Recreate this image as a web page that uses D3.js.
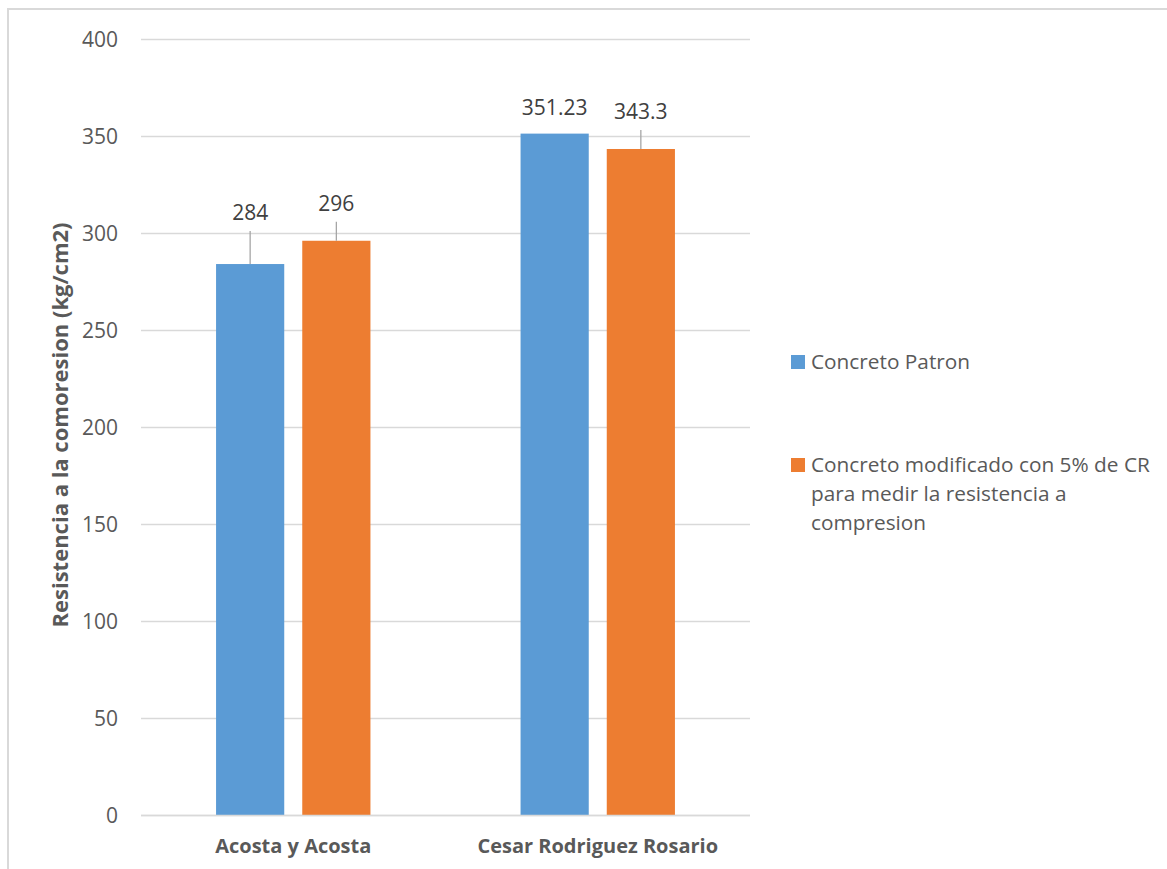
<!DOCTYPE html>
<html><head><meta charset="utf-8">
<script src="https://cdn.jsdelivr.net/npm/d3@7/dist/d3.min.js"></script>
<style>body{margin:0;background:#fff;} svg{display:block;}</style>
</head><body>
<svg id="chart" width="1167" height="869"></svg>
<script>
// ---- data ----
const categories = ["Acosta y Acosta", "Cesar Rodriguez Rosario"];
const seriesNames = ["Concreto Patron", "Concreto modificado con 5% de CR para medir la resistencia a compresion"];
const patronValues = [284, 351.23];
const modificadoValues = [296, 343.3];
const valueLabels = [["284", "351.23"], ["296", "343.3"]];
const yTicks = [0, 50, 100, 150, 200, 250, 300, 350, 400];
const yTitle = "Resistencia a la comoresion (kg/cm2)";
const legendLines = [["Concreto Patron"], ["Concreto modificado con 5% de CR", "para medir la resistencia a", "compresion"]];

// ---- layout / style ----
const colors = ["#5B9BD5", "#ED7D31"];
const font = "'Open Sans', Lato, sans-serif";
const textCol = "#595959";
const gridCol = "#d9d9d9";
// data label lift above bar top (px), per series per category (Excel callout placement)
const labelLift = [[51, 26], [37, 37]];

const svg = d3.select("#chart");
const plot = {left: 141, right: 750, top: 39, bottom: 815};

// outer chart border
svg.append("rect").attr("x", 8).attr("y", 9).attr("width", 1300).attr("height", 1000)
  .attr("fill", "none").attr("stroke", gridCol).attr("stroke-width", 2);

const y = d3.scaleLinear().domain([0, 400]).range([plot.bottom, plot.top]);
const x0 = d3.scaleBand().domain(categories).range([plot.left, plot.right]).padding(0);
const groupW = x0.bandwidth() * 0.507;
const x1 = d3.scaleBand().domain(d3.range(2)).range([0, groupW]).paddingInner(0.209).paddingOuter(0);

// gridlines
svg.append("g").selectAll("line").data(yTicks).join("line")
  .attr("x1", plot.left).attr("x2", plot.right)
  .attr("y1", d => Math.round(y(d)) + 0.5).attr("y2", d => Math.round(y(d)) + 0.5)
  .attr("stroke", gridCol).attr("stroke-width", 1.3);

// y axis tick labels
const yAxis = d3.axisLeft(y).tickValues(yTicks).tickSize(0).tickPadding(0);
const yg = svg.append("g").attr("transform", `translate(${plot.left - 23},0)`).call(yAxis);
yg.select(".domain").remove();
yg.selectAll("text").attr("font-family", font).attr("font-size", 21).attr("fill", textCol).attr("dy", "0.34em");

// bars
const seriesData = [patronValues, modificadoValues];
seriesData.forEach((vals, s) => {
  const g = svg.append("g");
  g.selectAll("rect").data(vals).join("rect")
    .attr("x", (d, i) => x0(categories[i]) + (x0.bandwidth() - groupW) / 2 + x1(s))
    .attr("width", x1.bandwidth())
    .attr("y", d => y(d))
    .attr("height", d => y(0) - y(d))
    .attr("fill", colors[s]);
  // labels & leader lines
  vals.forEach((d, i) => {
    const cx = x0(categories[i]) + (x0.bandwidth() - groupW) / 2 + x1(s) + x1.bandwidth() / 2;
    const top = y(d);
    const ly = top - labelLift[s][i];
    const lineTop = ly + 18;
    if (top - lineTop > 10) {
      g.append("line").attr("x1", cx).attr("x2", cx).attr("y1", top).attr("y2", lineTop)
        .attr("stroke", "#a6a6a6").attr("stroke-width", 1.3);
    }
    g.append("text").attr("x", cx).attr("y", ly).attr("dy", "0.35em")
      .attr("text-anchor", "middle").attr("font-family", font).attr("font-size", 21)
      .attr("fill", "#404040").text(valueLabels[s][i]);
  });
});

// x axis baseline
svg.append("line").attr("x1", plot.left).attr("x2", plot.right)
  .attr("y1", Math.round(y(0)) + 0.5).attr("y2", Math.round(y(0)) + 0.5)
  .attr("stroke", gridCol).attr("stroke-width", 1.5);

// x axis labels
const xAxis = d3.axisBottom(x0).tickSize(0).tickPadding(0);
const xg = svg.append("g").attr("transform", `translate(0,${plot.bottom + 31})`).call(xAxis);
xg.select(".domain").remove();
xg.selectAll("text").attr("font-family", font).attr("font-size", 20).attr("font-weight", "bold")
  .attr("fill", textCol).attr("dy", "0.35em");

// y title
svg.append("text").attr("transform", `translate(60,${(plot.top + plot.bottom) / 2 - 2}) rotate(-90)`)
  .attr("text-anchor", "middle").attr("dy", "0.35em")
  .attr("font-family", font).attr("font-size", 22).attr("font-weight", "bold")
  .attr("fill", textCol).text(yTitle);

// legend
const legendY = [362, 465];
legendLines.forEach((lines, s) => {
  const g = svg.append("g");
  g.append("rect").attr("x", 791).attr("y", legendY[s] - 7).attr("width", 14).attr("height", 14).attr("fill", colors[s]);
  lines.forEach((t, k) => {
    g.append("text").attr("x", 811).attr("y", legendY[s] + k * 29).attr("dy", "0.35em")
      .attr("font-family", font).attr("font-size", 20.8).attr("fill", textCol).text(t);
  });
});
</script>
</body></html>
